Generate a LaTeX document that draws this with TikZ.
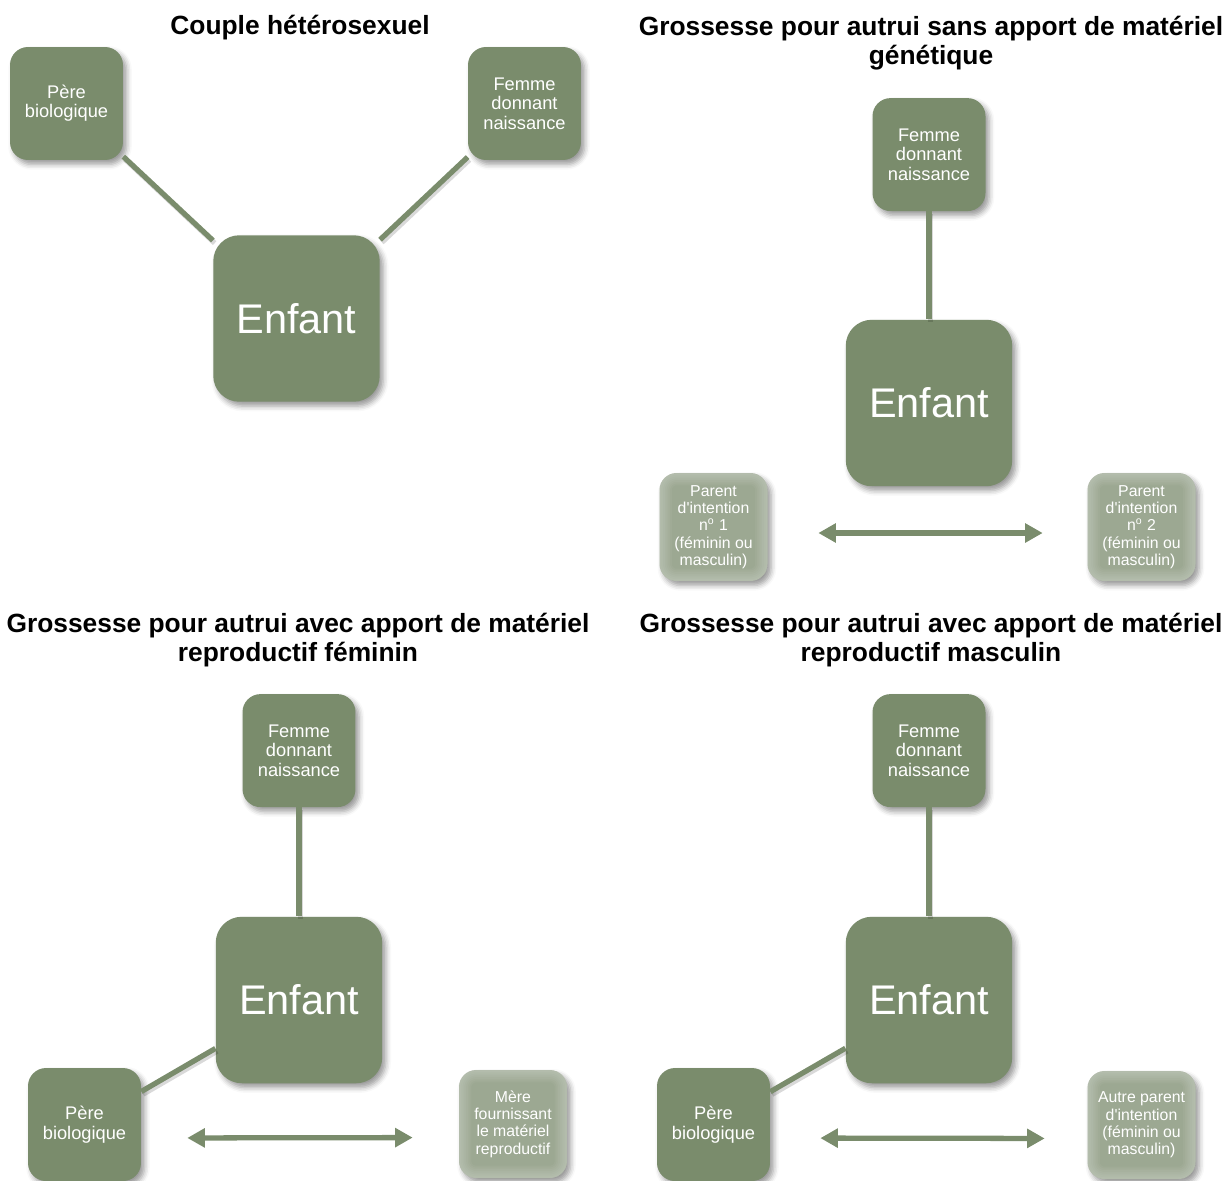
\documentclass[tikz,border=0pt]{standalone}
\usepackage{fontspec}
\setmainfont{Liberation Sans}
\usetikzlibrary{positioning,arrows.meta,shadows.blur}
\definecolor{vert}{RGB}{122,140,108}
\definecolor{vertclair}{RGB}{156,168,146}

\begin{document}
\begin{tikzpicture}[x=0.02cm, y=-0.02cm,
	main/.style = {fill=vert, rounded corners=0.36cm, minimum size=2.26cm, inner sep=1pt, align=center, text=white,
		font=\fontsize{10.4}{11}\selectfont,
		blur shadow={shadow xshift=2pt, shadow yshift=-2.5pt, shadow blur radius=3pt, shadow opacity=40}},
	enfant/.style = {main, rounded corners=0.52cm, minimum size=3.33cm, font=\fontsize{23.6}{26}\selectfont},
	faint/.style = {main, fill=vertclair, rounded corners=0.34cm, minimum size=2.16cm, font=\fontsize{9}{9.8}\selectfont,
		path picture={
			\foreach \w in {2,4,...,14}
				\draw[white, opacity=.045, line width=\w pt, rounded corners=0.34cm] (path picture bounding box.south west) rectangle (path picture bounding box.north east);}},
	titre/.style = {align=center, font=\fontsize{15}{16.5}\selectfont\bfseries},
	link/.style = {vert, line width=3pt, preaction={draw, black, opacity=.15, line width=3pt, transform canvas={shift={(1pt,-1.5pt)}}}},
	pair/.style = {vert, line width=3pt, {Triangle[length=10pt,width=10.5pt]}-{Triangle[length=10pt,width=10.5pt]}}]
	\useasboundingbox (0,0) rectangle (1230,1180);

	% Couple hétérosexuel
	\node[titre] (t1) at (300,28) {Couple hétérosexuel};
	\node[enfant] (e1) at (296.5,318.5) {Enfant};
	\node[main] (p1) at (66.5,103.5) {Père\\biologique};
	\node[main] (f1) at (524.5,103.5) {Femme\\donnant\\naissance};
	\draw[link] (p1) -- (e1);
	\draw[link] (f1) -- (e1);

	% sans apport de matériel génétique
	\node[titre] (t2) at (931,43) {Grossesse pour autrui sans apport de matériel\\génétique};
	\node[enfant] (e2) at (929,403) {Enfant};
	\node[main, above=2.16cm of e2] (f2) {Femme\\donnant\\naissance};
	\node[faint] (a2) at (713.5,527) {Parent\\d\textquotesingle intention\\n\textsuperscript{o}~1\\(féminin ou\\masculin)};
	\node[faint] (b2) at (1141.5,527) {Parent\\d\textquotesingle intention\\n\textsuperscript{o}~2\\(féminin ou\\masculin)};
	\draw[link] (f2) -- (e2);
	\draw[pair, shorten <=1.01cm, shorten >=0.89cm] ([yshift=-0.12cm]a2.east) -- ([yshift=-0.12cm]b2.west);

	% apport féminin
	\node[titre] (t3) at (298,640) {Grossesse pour autrui avec apport de matériel\\reproductif féminin};
	\node[enfant] (e3) at (299,1000) {Enfant};
	\node[main, above=2.18cm of e3] (f3) {Femme\\donnant\\naissance};
	\node[main] (p3) at (84.5,1124.5) {Père\\biologique};
	\node[faint] (m3) at (513,1124) {Mère\\fournissant\\le matériel\\reproductif};
	\draw[link] (f3) -- (e3);
	\draw[link] (p3) -- (e3);
	\draw[pair, shorten <=0.92cm, shorten >=0.92cm] ([yshift=-0.27cm]p3.east) -- ([yshift=-0.27cm]m3.west);

	% apport masculin
	\node[titre] (t4) at (931,640) {Grossesse pour autrui avec apport de matériel\\reproductif masculin};
	\node[enfant] (e4) at (929,1000) {Enfant};
	\node[main, above=2.18cm of e4] (f4) {Femme\\donnant\\naissance};
	\node[main] (p4) at (713.5,1124.5) {Père\\biologique};
	\node[faint] (o4) at (1141.5,1125) {Autre parent\\d\textquotesingle intention\\(féminin ou\\masculin)};
	\draw[link] (f4) -- (e4);
	\draw[link] (p4) -- (e4);
	\draw[pair, shorten <=1.0cm, shorten >=0.85cm] ([yshift=-0.27cm]p4.east) -- ([yshift=-0.27cm]o4.west);
\end{tikzpicture}
\end{document}
